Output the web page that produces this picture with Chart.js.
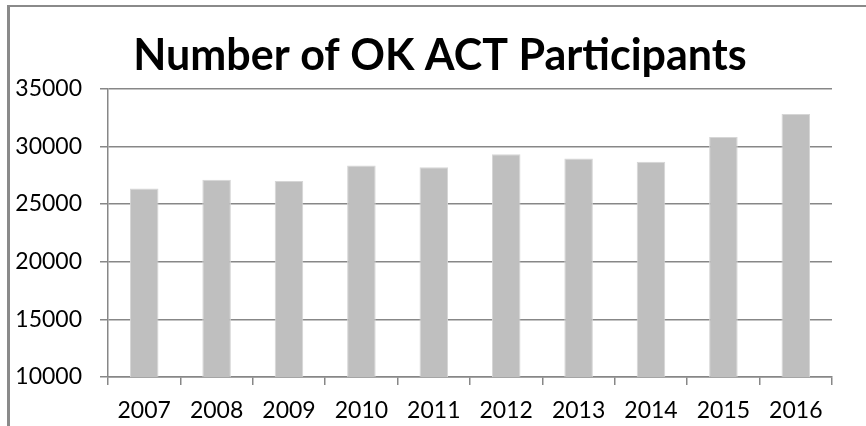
<!DOCTYPE html>
<html>
<head>
<meta charset="utf-8">
<script src="https://cdn.jsdelivr.net/npm/chart.js@4"></script>
<style>
  html, body { margin: 0; padding: 0; background: #fff; }
  #wrap { width: 866px; height: 426px; position: relative; }
</style>
</head>
<body>
<div id="wrap"><canvas id="actChart" width="866" height="426"></canvas></div>
<script>
// values
const years = ["2007", "2008", "2009", "2010", "2011", "2012", "2013", "2014", "2015", "2016"];
const participants = [26350, 27100, 27000, 28340, 28190, 29310, 28950, 28660, 30800, 32800];
const yTicks = [10000, 15000, 20000, 25000, 30000, 35000];

const gridGray = "#878787";

// the outer frame of the original picture (only left and top show)
const framePlugin = {
  id: "frame",
  beforeDraw(chart) {
    const c = chart.ctx;
    c.save();
    c.fillStyle = "#8a8a8a";
    c.fillRect(7, 5, 3, 426);
    c.fillRect(7, 5, 866, 2);
    c.restore();
  },
  // the original title sits a bit right of the canvas middle
  afterLayout(chart) {
    if (chart.titleBlock) {
      chart.titleBlock.left = 48;
      chart.titleBlock.right = 832;
    }
  }
};

const ctx = document.getElementById("actChart").getContext("2d");

new Chart(ctx, {
  type: "bar",
  data: {
    labels: years,
    datasets: [{
      data: participants,
      backgroundColor: "#bfbfbf",
      borderColor: "#d6d6d6",
      borderWidth: 1,
      barPercentage: 0.394,
      categoryPercentage: 1.0
    }]
  },
  options: {
    responsive: false,
    animation: false,
    layout: { padding: { left: 0, right: 34, top: 0, bottom: 0 } },
    plugins: {
      legend: { display: false },
      tooltip: { enabled: false },
      title: {
        display: true,
        text: "Number of OK ACT Participants",
        color: "#000",
        font: { family: "Lato", size: 43, weight: "bold" },
        padding: { top: 30, bottom: 7 }
      }
    },
    scales: {
      x: {
        grid: {
          color: gridGray,
          lineWidth: 1.5,
          drawOnChartArea: false,
          drawTicks: true,
          tickLength: 8,
          offset: true
        },
        border: { color: gridGray, width: 1.5 },
        ticks: {
          color: "#000",
          padding: 12,
          maxRotation: 0,
          font: { family: "Lato", size: 23 }
        },
        afterFit(scale) { scale.height = 49; }
      },
      y: {
        min: 10000,
        max: 35000,
        afterBuildTicks(scale) {
          scale.ticks = yTicks.map(v => ({ value: v }));
        },
        grid: {
          color: gridGray,
          lineWidth: 1.5,
          tickLength: 8
        },
        border: { color: gridGray, width: 1.5 },
        ticks: {
          color: "#000",
          padding: 18,
          font: { family: "Lato", size: 23 },
          callback: v => String(v)
        },
        afterFit(scale) { scale.width = 108; }
      }
    }
  },
  plugins: [framePlugin]
});
</script>
</body>
</html>
